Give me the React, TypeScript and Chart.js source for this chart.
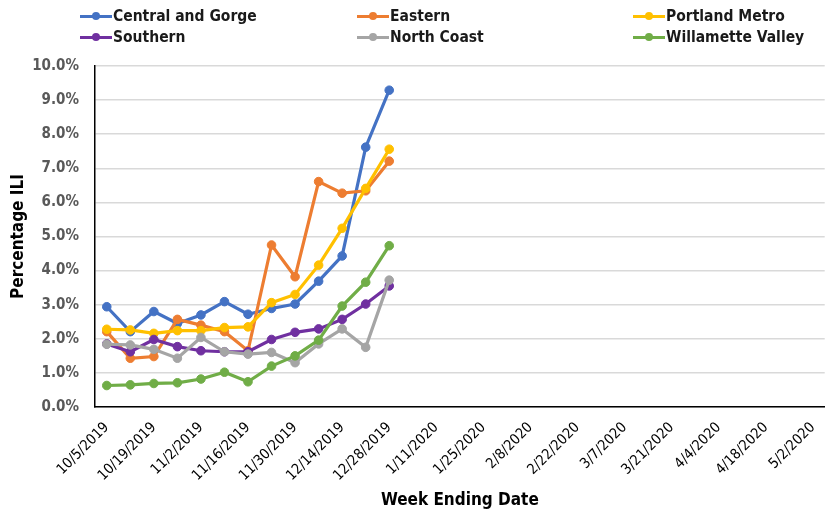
import React, { useEffect, useRef } from "react";
import { Chart, registerables } from "chart.js";

Chart.register(...registerables);

const weeks: string[] = [
  "10/5/2019", "10/12/2019", "10/19/2019", "10/26/2019", "11/2/2019", "11/9/2019",
  "11/16/2019", "11/23/2019", "11/30/2019", "12/7/2019", "12/14/2019", "12/21/2019",
  "12/28/2019", "1/4/2020", "1/11/2020", "1/18/2020", "1/25/2020", "2/1/2020",
  "2/8/2020", "2/15/2020", "2/22/2020", "2/29/2020", "3/7/2020", "3/14/2020",
  "3/21/2020", "3/28/2020", "4/4/2020", "4/11/2020", "4/18/2020", "4/25/2020", "5/2/2020",
];

const centralGorge = [2.94, 2.21, 2.80, 2.45, 2.70, 3.09, 2.72, 2.89, 3.02, 3.69, 4.43, 7.62, 9.29];
const eastern = [2.21, 1.43, 1.48, 2.57, 2.40, 2.21, 1.65, 4.75, 3.82, 6.61, 6.27, 6.34, 7.21];
const portlandMetro = [2.28, 2.26, 2.16, 2.24, 2.24, 2.33, 2.35, 3.06, 3.30, 4.16, 5.24, 6.41, 7.56];
const southern = [1.85, 1.62, 1.98, 1.77, 1.65, 1.62, 1.62, 1.98, 2.19, 2.29, 2.57, 3.02, 3.55];
const northCoast = [1.84, 1.82, 1.69, 1.43, 2.04, 1.62, 1.55, 1.60, 1.30, 1.85, 2.29, 1.75, 3.72];
const willametteValley = [0.63, 0.65, 0.69, 0.71, 0.82, 1.02, 0.74, 1.20, 1.50, 1.96, 2.96, 3.66, 4.73];

const yTicks = [0, 1, 2, 3, 4, 5, 6, 7, 8, 9, 10];

const series = [
  { name: "Central and Gorge", data: centralGorge, color: "#4472C4" },
  { name: "Eastern", data: eastern, color: "#ED7D31" },
  { name: "Portland Metro", data: portlandMetro, color: "#FFC000" },
  { name: "Southern", data: southern, color: "#7030A0" },
  { name: "North Coast", data: northCoast, color: "#A5A5A5" },
  { name: "Willamette Valley", data: willametteValley, color: "#70AD47" },
];

const FONT = "'DejaVu Sans Condensed', 'Liberation Sans', sans-serif";

const legendPos = [
  { x: 80, y: 16 }, { x: 357, y: 16 }, { x: 633, y: 16 },
  { x: 80, y: 37 }, { x: 357, y: 37 }, { x: 633, y: 37 },
];

export default function App() {
  const ref = useRef<HTMLCanvasElement>(null);
  useEffect(() => {
    if (!ref.current) return;
    const chart = new Chart(ref.current, {
      type: "line",
      data: {
        labels: weeks,
        datasets: series.map((s, i) => ({
          label: s.name,
          data: s.data,
          borderColor: s.color,
          backgroundColor: s.color,
          pointBackgroundColor: s.color,
          pointBorderColor: s.color,
          borderWidth: 3.2,
          pointRadius: 4.3,
          pointBorderWidth: 1,
          tension: 0,
          order: series.length - i,
        })),
      },
      options: {
        animation: false,
        responsive: false,
        maintainAspectRatio: false,
        layout: { padding: { top: 66, right: 5, bottom: 0, left: 0 } },
        plugins: { legend: { display: false }, tooltip: { enabled: false } },
        scales: {
          x: {
            type: "category",
            offset: true,
            grid: { display: false, offset: true },
            border: { display: true, color: "#000000", width: 1.5 },
            ticks: {
              autoSkip: false,
              maxRotation: 45,
              minRotation: 45,
              color: "#000000",
              font: { family: FONT, size: 14.5 },
              padding: 4,
              callback: (_v: any, i: number) => (i % 2 === 0 ? weeks[i] : ""),
            },
            title: {
              display: true,
              text: "Week Ending Date",
              color: "#000000",
              font: { family: FONT, size: 17, weight: "bold" },
              padding: { top: 0, bottom: 3 },
            },
            afterFit: (s: any) => { s.height = 107; },
          },
          y: {
            min: 0,
            max: 10,
            afterBuildTicks: (s: any) => { s.ticks = yTicks.map((v) => ({ value: v })); },
            grid: { color: "#D9D9D9", lineWidth: 1.5, drawTicks: false },
            border: { display: true, color: "#000000", width: 1.5 },
            ticks: {
              color: "#595959",
              font: { family: FONT, size: 15, weight: "bold" },
              padding: 16,
              callback: (v: any) => Number(v).toFixed(1) + "%",
            },
            title: {
              display: true,
              text: "Percentage ILI",
              color: "#000000",
              font: { family: FONT, size: 17, weight: "bold" },
              padding: { top: 8, bottom: 0 },
            },
            afterFit: (s: any) => { s.width = 95; },
          },
        },
      },
    });
    return () => chart.destroy();
  }, []);

  return (
    <div style={{ position: "fixed", left: 0, top: 0, width: 830, height: 514, background: "#fff" }}>
      <canvas ref={ref} width={830} height={514} style={{ display: "block" }} />
      {series.map((s, i) => (
        <div
          key={s.name}
          style={{
            position: "absolute",
            left: legendPos[i].x,
            top: legendPos[i].y - 11,
            height: 22,
            display: "flex",
            alignItems: "center",
            fontFamily: FONT,
            fontWeight: "bold",
            fontSize: 15.5,
            color: "#1a1a1a",
            whiteSpace: "nowrap",
          }}
        >
          <div style={{ position: "relative", width: 32, height: 22, marginRight: 1 }}>
            <div style={{ position: "absolute", left: 0, top: 9.5, width: 32, height: 3, background: s.color }} />
            <div style={{ position: "absolute", left: 12, top: 7, width: 8, height: 8, borderRadius: 4, background: s.color }} />
          </div>
          <span>{s.name}</span>
        </div>
      ))}
    </div>
  );
}
